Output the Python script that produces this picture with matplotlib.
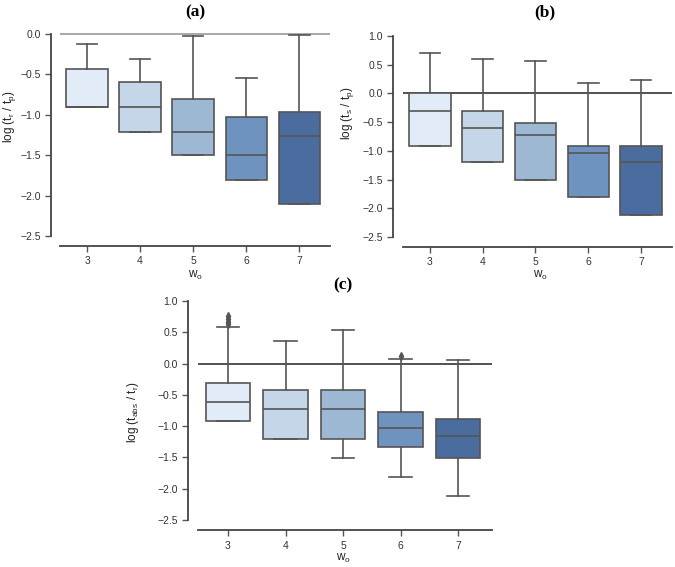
import matplotlib
matplotlib.use("Agg")
import matplotlib.pyplot as plt

plt.rcParams['font.family'] = ['Liberation Sans', 'DejaVu Sans']
plt.rcParams['mathtext.default'] = 'regular'

categories = [3, 4, 5, 6, 7]

# panel (a)
a_q1 = [-0.90, -1.21, -1.50, -1.81, -2.11]
a_med = [-0.90, -0.90, -1.21, -1.50, -1.26]
a_q3 = [-0.43, -0.60, -0.81, -1.03, -0.96]
a_lo = [-0.90, -1.21, -1.50, -1.81, -2.11]
a_hi = [-0.12, -0.31, -0.03, -0.55, -0.01]
a_fl = [[], [], [], [], []]

# panel (b)
b_q1 = [-0.91, -1.20, -1.51, -1.81, -2.11]
b_med = [-0.30, -0.60, -0.73, -1.03, -1.20]
b_q3 = [0.00, -0.30, -0.51, -0.91, -0.91]
b_lo = [-0.91, -1.20, -1.51, -1.81, -2.11]
b_hi = [0.70, 0.60, 0.57, 0.18, 0.24]
b_fl = [[], [], [], [], []]

# panel (c)
c_q1 = [-0.91, -1.21, -1.21, -1.34, -1.51]
c_med = [-0.61, -0.73, -0.73, -1.03, -1.15]
c_q3 = [-0.31, -0.43, -0.43, -0.77, -0.89]
c_lo = [-0.91, -1.21, -1.51, -1.81, -2.11]
c_hi = [0.58, 0.36, 0.53, 0.07, 0.05]
c_fl = [[0.63, 0.66, 0.72, 0.76], [], [], [0.12], []]

titles = ["(a)", "(b)", "(c)"]
ylabels = [r"log (t$_r$ / t$_p$)", r"log (t$_s$ / t$_p$)", r"log (t$_{abs}$ / t$_r$)"]
xlabel = r"w$_o$"
a_yticks = [0.0, -0.5, -1.0, -1.5, -2.0, -2.5]
bc_yticks = [1.0, 0.5, 0.0, -0.5, -1.0, -1.5, -2.0, -2.5]

pal = ['#e2ecf8', '#c6d6e9', '#9db8d3', '#6f93bf', '#4a6c9f']

W, H = 675, 567
fig = plt.figure(figsize=(W / 100, H / 100), dpi=100)

def px_axes(x0, x1, ytop, ybot):
    return fig.add_axes([x0 / W, 1 - ybot / H, (x1 - x0) / W, (ybot - ytop) / H])

edge = '#555555'
tickc = '#333333'

def draw(ax, q1, med, q3, lo, hi, fl, ylim, yticks, xlim, zcolor, left_off, bot_off):
    stats = []
    for i in range(len(categories)):
        stats.append(dict(med=med[i], q1=q1[i], q3=q3[i], whislo=lo[i], whishi=hi[i], fliers=fl[i]))
    ax.axhline(0, color=zcolor, lw=1.2, zorder=0)
    bp = ax.bxp(stats, positions=categories, widths=0.78, patch_artist=True,
                showfliers=True,
                boxprops=dict(edgecolor=edge, linewidth=1.2),
                medianprops=dict(color=edge, linewidth=1.2),
                whiskerprops=dict(color=edge, linewidth=1.2),
                capprops=dict(color=edge, linewidth=1.2),
                capwidths=0.39,
                flierprops=dict(marker='d', markerfacecolor=edge, markeredgecolor=edge, markersize=4))
    for patch, col in zip(bp['boxes'], pal):
        patch.set_facecolor(col)
    ax.set_xlim(*xlim)
    ax.set_ylim(*ylim)
    ax.set_xticks(categories)
    ax.set_xticklabels([str(c) for c in categories])
    ax.set_yticks(yticks)
    ax.set_yticklabels([f"{t:.1f}".replace("-", "\u2212") for t in yticks])
    for s in ['top', 'right']:
        ax.spines[s].set_visible(False)
    ax.spines['left'].set_position(('outward', left_off))
    ax.spines['bottom'].set_position(('outward', bot_off))
    ax.spines['left'].set_bounds(min(yticks), max(yticks))
    for s in ['left', 'bottom']:
        ax.spines[s].set_color('#444444')
        ax.spines[s].set_linewidth(1.3)
    ax.tick_params(axis='both', colors='#555555', labelcolor=tickc, labelsize=7.5, length=4, width=1)
    ax.set_facecolor('none')

ax_a = px_axes(60, 330, 32.4, 244)
draw(ax_a, a_q1, a_med, a_q3, a_lo, a_hi, a_fl, (-2.6, 0.02), a_yticks, (2.49, 7.58), '#999999', 6.5, 1.4)
ax_b = px_axes(403, 672, 36, 245.6)
draw(ax_b, b_q1, b_med, b_q3, b_lo, b_hi, b_fl, (-2.65, 1.0), bc_yticks, (2.488, 7.588), '#333333', 7.2, 1.0)
ax_c = px_axes(198, 492, 301, 529.4)
draw(ax_c, c_q1, c_med, c_q3, c_lo, c_hi, c_fl, (-2.65, 1.0), bc_yticks, (2.478, 7.59), '#333333', 7.2, 0.5)

def ftext(x, y, s, **kw):
    fig.text(x / W, 1 - y / H, s, **kw)

tkw = dict(ha='center', va='center', fontsize=12.5, fontweight='bold', family=['Liberation Serif'])
ftext(195, 12, titles[0], **tkw)
ftext(545, 12, titles[1], **tkw)
ftext(343, 285, titles[2], **tkw)

lkw = dict(ha='center', va='center', fontsize=8.5, rotation=90, color='#222222')
ftext(10, 117, ylabels[0], **lkw)
ftext(348, 113, ylabels[1], **lkw)
ftext(133, 412, ylabels[2], **lkw)

xkw = dict(ha='center', va='center', fontsize=8.5, color='#222222')
ftext(195, 275, xlabel, **xkw)
ftext(540, 275, xlabel, **xkw)
ftext(343, 558, xlabel, **xkw)

fig.savefig("out.png", dpi=100)
